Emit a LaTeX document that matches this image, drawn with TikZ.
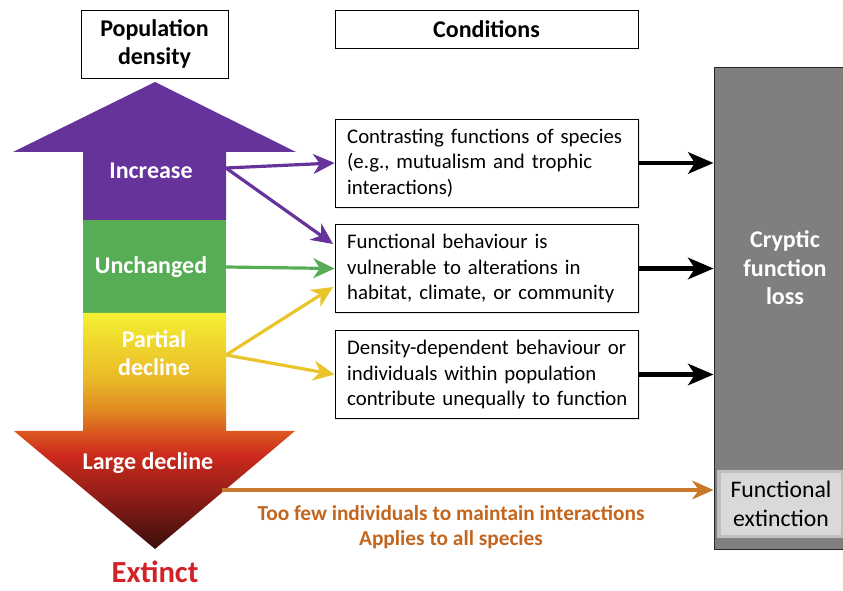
\documentclass[tikz,border=0pt]{standalone}
\usepackage{fontspec}
\setmainfont{Carlito}
\usetikzlibrary{arrows.meta,calc,shadows}
\definecolor{purp}{HTML}{66339A}
\definecolor{grn}{HTML}{57AD55}
\definecolor{ylw}{HTML}{E9C42A}
\definecolor{orng}{HTML}{C8782A}
\definecolor{orngtxt}{HTML}{C2661F}
\definecolor{extred}{HTML}{D42027}
\definecolor{boxgray}{HTML}{7F7F7F}
\definecolor{lightbox}{HTML}{D9D9D9}
\definecolor{sdk}{HTML}{3A0E0C}
\definecolor{sc2}{HTML}{8A1C16}
\definecolor{sc3}{HTML}{CC2A1C}
\definecolor{sc4}{HTML}{DB5A20}
\definecolor{sc5}{HTML}{E08A22}
\definecolor{sc6}{HTML}{EAB828}
\definecolor{syl}{HTML}{F4F032}
\pgfdeclareverticalshading{declineshade}{100bp}{color(0bp)=(sdk); color(25bp)=(sdk); color(35.4bp)=(sc2); color(44.9bp)=(sc3); color(50bp)=(sc4); color(54.4bp)=(sc5); color(60.8bp)=(sc6); color(75bp)=(syl); color(100bp)=(syl)}
\tikzset{
  titlebox/.style={draw=black, line width=0.7pt, fill=white, align=center, font=\fontsize{18}{21}\selectfont\bfseries},
  condbox/.style={draw=black, line width=0.7pt, fill=white, align=left, text width=209pt, inner xsep=9pt,
    minimum width=227.25pt, minimum height=66pt, font=\fontsize{15.6}{19.2}\selectfont,
    drop shadow={opacity=0.2, shadow xshift=1.2pt, shadow yshift=-1.2pt}},
  arrowlabel/.style={text=white, font=\fontsize{18}{21}\selectfont\bfseries, align=center},
  parrow/.style={line width=2.4pt, -{Stealth[length=16pt,width=15pt,inset=5pt]}},
  blkarrow/.style={line width=3.6pt, draw=black, -{Stealth[length=19pt,width=16pt,inset=5pt]}},
  orarrow/.style={line width=3pt, draw=orng, -{Stealth[length=16pt,width=14pt,inset=5pt]}},
}
\begin{document}
\begin{tikzpicture}[x=0.75pt,y=-0.75pt]
\useasboundingbox (0,0) rectangle (843,591);

% titles
\node[titlebox, minimum width=110.25pt, minimum height=51pt] (popd) at (154.5,44) {Population\\density};
\node[titlebox, minimum width=227.25pt, minimum height=28.5pt] (cond) at (486.5,29) {Conditions};

% up arrow (increase)
\fill[purp] (155,82) -- (296,152) -- (226,152) -- (226,220) -- (83,220) -- (83,152) -- (13,152) -- cycle;
% unchanged
\fill[grn] (83,220) rectangle (226,313);
% decline arrow
\shade[shading=declineshade] (83,313) -- (226,313) -- (226,431) -- (295,431) -- (155,549) -- (14,431) -- (83,431) -- cycle;

\node[arrowlabel] (inc) at (151,171) {Increase};
\node[arrowlabel] (unch) at (151,267) {Unchanged};
\node[arrowlabel] (part) at (154,353) {Partial\\decline};
\node[arrowlabel] (large) at (148,463) {Large decline};
\node[text=extred, font=\fontsize{23}{25}\selectfont\bfseries, inner sep=0pt] (ext) at (155,572) {Extinct};

% condition boxes
\node[condbox] (c1) at (486.5,163) {\mbox{Contrasting functions of species}\\\mbox{(e.g., mutualism and trophic}\\\mbox{interactions)}};
\node[condbox] (c2) at (486.5,268.5) {\mbox{Functional behaviour is}\\\mbox{vulnerable to alterations in}\\\mbox{habitat, climate, or community}};
\node[condbox] (c3) at (486.5,374.5) {\mbox{Density-dependent behaviour or}\\\mbox{individuals within population}\\\mbox{contribute unequally to function}};

% gray box
\node[draw=black!85, line width=0.7pt, fill=boxgray, minimum width=97.5pt, minimum height=361.5pt] (gray) at (779,308) {};
\node[text=white, font=\fontsize{18}{21.4}\selectfont\bfseries, align=center] (crypt) at (785,268) {Cryptic\\function\\loss};
\node[fill=lightbox, draw=black!25, line width=2.5pt, minimum width=93pt, minimum height=49pt,
      font=\fontsize{17.8}{21.5}\selectfont, align=center] (fext) at (781,504) {Functional\\extinction};

% start/end coordinates
\coordinate (incS) at (226,168);
\coordinate (unchS) at (226,267);
\coordinate (partS) at (226,355);
\coordinate (c2top) at (333,244);
\coordinate (c2bot) at (333,287);
\coordinate (largeS) at (222,490);

% colored arrows
\draw[parrow, purp] (incS) -- (c1.west);
\draw[parrow, purp] (incS) -- (c2top);
\draw[parrow, grn] (unchS) -- (c2.west);
\draw[parrow, ylw] (partS) -- (c2bot);
\draw[parrow, ylw] (partS) -- (c3.west);

% black arrows
\draw[blkarrow] (c1.east) -- (c1.east -| gray.west);
\draw[blkarrow] (c2.east) -- (c2.east -| gray.west);
\draw[blkarrow] (c3.east) -- (c3.east -| gray.west);

% orange arrow
\draw[orarrow] (largeS) -- (largeS -| gray.west);
\node[text=orngtxt, font=\fontsize{16}{19}\selectfont\bfseries, align=center] (few) at (451,527) {Too few individuals to maintain interactions\\Applies to all species};
\end{tikzpicture}
\end{document}
